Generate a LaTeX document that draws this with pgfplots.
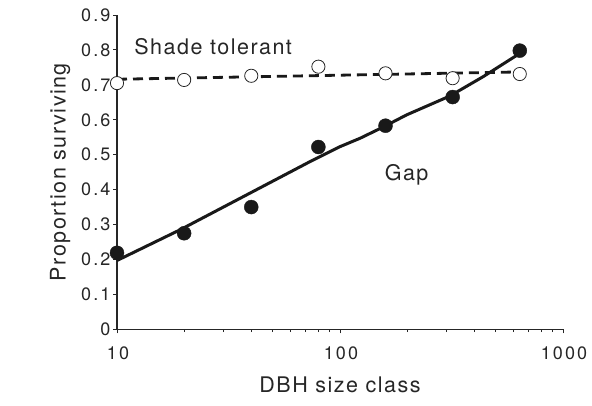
\documentclass[border=0pt]{standalone}
\usepackage{fontspec}
\setmainfont{TeX Gyre Heros}
\newfontfamily\labelfont[LetterSpace=7]{TeX Gyre Heros}
\newfontfamily\tickfont[LetterSpace=12]{TeX Gyre Heros}
\usepackage{pgfplots}
\pgfplotsset{compat=1.18}
\begin{document}
\begin{tikzpicture}
\useasboundingbox (0,0) rectangle (592pt,406pt);
\begin{axis}[
  at={(117pt,76.7pt)}, anchor=south west,
  scale only axis, width=446pt, height=314.3pt,
  xmode=log, xmin=10, xmax=1000, ymin=0, ymax=0.9,
  axis x line*=bottom, axis y line*=left,
  axis line style={line width=1.2pt, black!85},
  xtick={10,100,1000}, xticklabels={10,100,1000},
  ytick={0,0.1,...,0.9},
  yticklabels={0,0.1,0.2,0.3,0.4,0.5,0.6,0.7,0.8,0.9},
  minor xtick={}, 
  tick align=outside, major tick length=4pt,
  tick style={line width=1pt, black!85},
  /pgf/number format/assume math mode=true,
  tick label style={font=\tickfont\fontsize{18}{18}\selectfont, text=black!85},
  xticklabel style={yshift=-10pt, xshift=1pt},
  yticklabel style={xshift=1pt},
  xlabel={DBH size class}, ylabel={Proportion surviving},
  label style={font=\labelfont\fontsize{21.5}{21.5}\selectfont, text=black!85},
  xlabel style={yshift=-10pt},
  ylabel style={yshift=4pt},
  clip=false,
]
\addplot[line width=3pt, black!90] coordinates {
 (10,0.197) (19.2,0.285) (39.5,0.39) (73.3,0.480) (100,0.523) (123,0.547)
 (156,0.579) (199,0.614) (311,0.668) (440,0.724) (640,0.790)};
\addplot[line width=2.8pt, black!90, dash pattern=on 10pt off 6pt] coordinates {
 (10,0.716) (640,0.737)};
\addplot[only marks, mark=*, mark size=7pt, mark options={fill=black!90, draw=black!90}] coordinates {
 (10,0.219) (20,0.275) (40,0.35) (80,0.522) (160,0.583) (320,0.665) (640,0.798)};
\addplot[only marks, mark=*, mark size=6.6pt, mark options={fill=white, draw=black!85, line width=0.8pt}] coordinates {
 (10,0.705) (20,0.714) (40,0.726) (80,0.752) (160,0.733) (320,0.719) (640,0.731)};
\node[font=\labelfont\fontsize{21.5}{21.5}\selectfont, text=black!85] at (axis cs:27,0.809) {Shade tolerant};
\node[font=\labelfont\fontsize{21.5}{21.5}\selectfont, text=black!85] at (axis cs:199,0.442) {Gap};
\end{axis}
\end{tikzpicture}
\end{document}
